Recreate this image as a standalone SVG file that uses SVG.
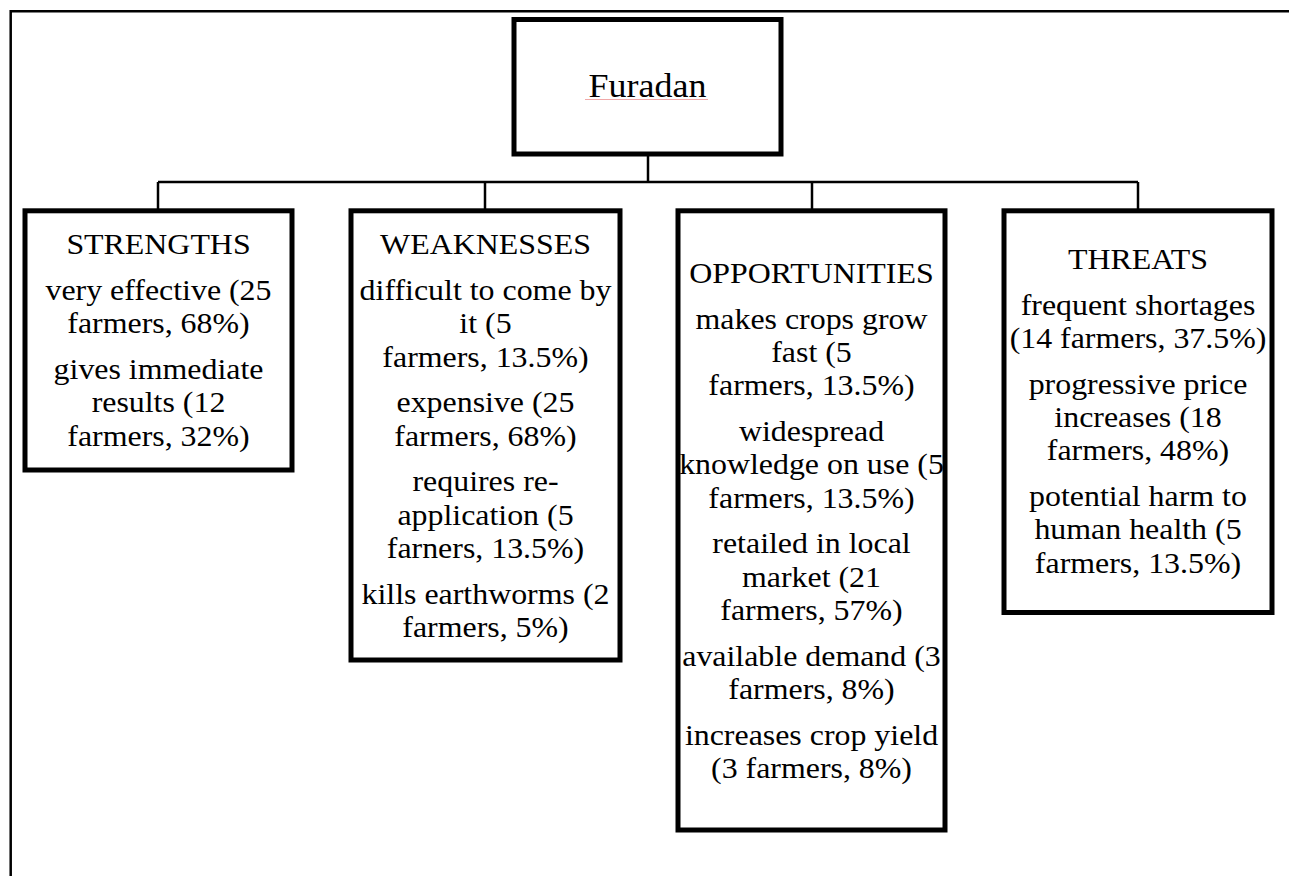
<svg xmlns="http://www.w3.org/2000/svg" width="1289" height="876" viewBox="0 0 1289 876">
  <style>
    .box { fill: #ffffff; stroke: #000000; stroke-width: 5; }
    .frame { fill: none; stroke: #000000; stroke-width: 2.5; }
    .conn { fill: none; stroke: #000000; stroke-width: 2.5; }
    text { font-family: "Liberation Serif", "Times New Roman", serif; fill: #000000; text-anchor: middle; }
    .t { font-size: 29px; }
    .title { font-size: 33px; }
    .squiggle { stroke: #f0a8a8; stroke-width: 1.2; fill: none; }
  </style>
  <rect x="0" y="0" width="1289" height="876" fill="#ffffff"/>
  <g id="frame">
    <path class="frame" d="M10.7,876 V11.3 H1289"/>
  </g>
  <g id="connectors">
    <path class="conn" d="M648,154 V182"/>
    <path class="conn" d="M158,182 H1138"/>
    <path class="conn" d="M158,182 V210"/>
    <path class="conn" d="M485,182 V210"/>
    <path class="conn" d="M812,182 V210"/>
    <path class="conn" d="M1138,182 V210"/>
  </g>
  <g id="furadan">
    <rect class="box" x="514" y="19.5" width="267" height="134.5"/>
    <g transform="translate(647.5,0) scale(1.09,1)">
      <text class="title" x="0" y="97">Furadan</text>
    </g>
    <path class="squiggle" d="M585,99.5 H708"/>
  </g>
  <g id="strengths">
    <rect class="box" x="25" y="210.8" width="267" height="259.2"/>
    <g transform="translate(158.5,0) scale(1.1,1)">
      <text class="t" x="0" y="254">STRENGTHS</text>
      <text class="t" x="0" y="300">very effective (25</text>
      <text class="t" x="0" y="333.3">farmers, 68%)</text>
      <text class="t" x="0" y="379">gives immediate</text>
      <text class="t" x="0" y="412.3">results (12</text>
      <text class="t" x="0" y="445.6">farmers, 32%)</text>
    </g>
  </g>
  <g id="weaknesses">
    <rect class="box" x="351" y="210.8" width="269" height="449.2"/>
    <g transform="translate(485.5,0) scale(1.1,1)">
      <text class="t" x="0" y="254">WEAKNESSES</text>
      <text class="t" x="0" y="300">difficult to come by</text>
      <text class="t" x="0" y="333.3">it (5</text>
      <text class="t" x="0" y="366.6">farmers, 13.5%)</text>
      <text class="t" x="0" y="412.3">expensive (25</text>
      <text class="t" x="0" y="445.6">farmers, 68%)</text>
      <text class="t" x="0" y="491.3">requires re-</text>
      <text class="t" x="0" y="524.6">application (5</text>
      <text class="t" x="0" y="557.9">farners, 13.5%)</text>
      <text class="t" x="0" y="603.6">kills earthworms (2</text>
      <text class="t" x="0" y="636.9">farmers, 5%)</text>
    </g>
  </g>
  <g id="opportunities">
    <rect class="box" x="678" y="210.8" width="267" height="619.2"/>
    <g transform="translate(811.5,0) scale(1.1,1)">
      <text class="t" x="0" y="283">OPPORTUNITIES</text>
      <text class="t" x="0" y="328.7">makes crops grow</text>
      <text class="t" x="0" y="362">fast (5</text>
      <text class="t" x="0" y="395.3">farmers, 13.5%)</text>
      <text class="t" x="0" y="441">widespread</text>
      <text class="t" x="0" y="474.3">knowledge on use (5</text>
      <text class="t" x="0" y="507.6">farmers, 13.5%)</text>
      <text class="t" x="0" y="553.3">retailed in local</text>
      <text class="t" x="0" y="586.6">market (21</text>
      <text class="t" x="0" y="619.9">farmers, 57%)</text>
      <text class="t" x="0" y="665.6">available demand (3</text>
      <text class="t" x="0" y="698.9">farmers, 8%)</text>
      <text class="t" x="0" y="744.6">increases crop yield</text>
      <text class="t" x="0" y="777.9">(3 farmers, 8%)</text>
    </g>
  </g>
  <g id="threats">
    <rect class="box" x="1004" y="210.8" width="268" height="401.7"/>
    <g transform="translate(1138,0) scale(1.1,1)">
      <text class="t" x="0" y="269">THREATS</text>
      <text class="t" x="0" y="314.7">frequent shortages</text>
      <text class="t" x="0" y="348">(14 farmers, 37.5%)</text>
      <text class="t" x="0" y="393.7">progressive price</text>
      <text class="t" x="0" y="427">increases (18</text>
      <text class="t" x="0" y="460.3">farmers, 48%)</text>
      <text class="t" x="0" y="506">potential harm to</text>
      <text class="t" x="0" y="539.3">human health (5</text>
      <text class="t" x="0" y="572.6">farmers, 13.5%)</text>
    </g>
  </g>
</svg>
